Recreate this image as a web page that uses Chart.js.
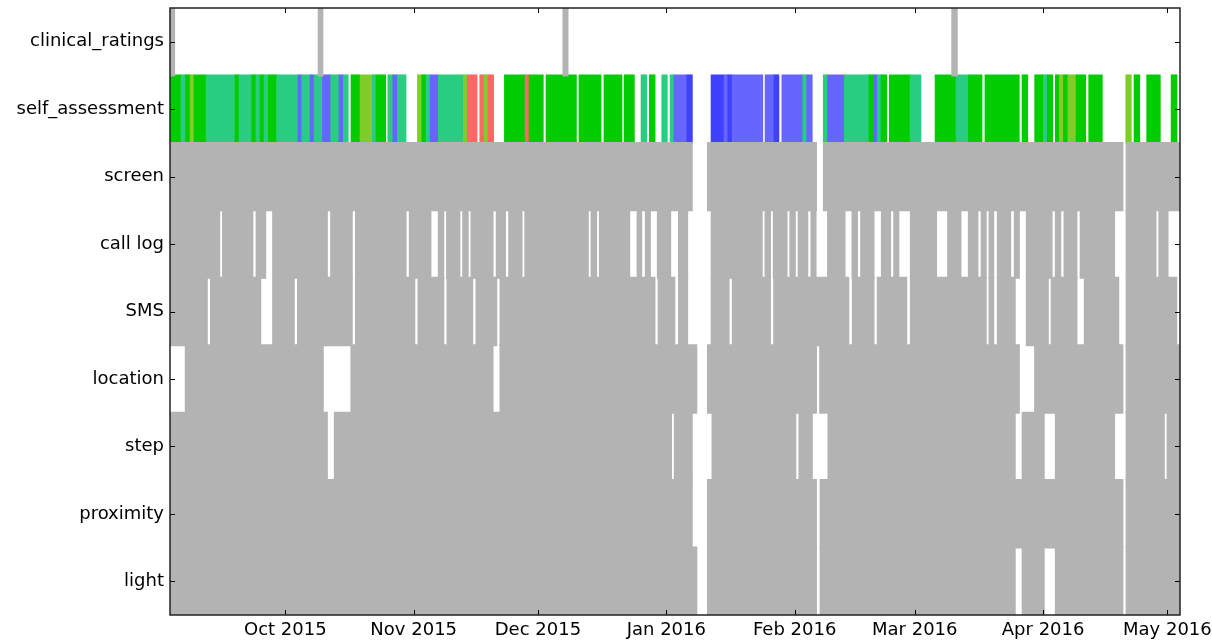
<!DOCTYPE html>
<html lang="en">
<head>
    <meta charset="UTF-8">
    <title>Data availability</title>
    <script src="https://cdn.jsdelivr.net/npm/chart.js"></script>
    <style>
        html, body { margin: 0; padding: 0; background: #fff; }
    </style>
</head>
<body>
    <canvas id="availChart" width="1212" height="640"></canvas>

    <script>
        // x values are days since 1 Sep 2015
        const rowLabels = ['clinical_ratings', 'self_assessment', 'screen', 'call log', 'SMS', 'location', 'step', 'proximity', 'light'];
        const monthTickDays = [30, 61, 91, 122, 153, 182, 213, 243];
        const monthTickLabels = ['Oct 2015', 'Nov 2015', 'Dec 2015', 'Jan 2016', 'Feb 2016', 'Mar 2016', 'Apr 2016', 'May 2016'];
        const dayMin = 2.15, dayMax = 246.05;

        const clinicalDays = [[2.15, 3.3], [37.9, 39.1], [97.0, 98.3], [190.9, 192.3]];

        // [start, end, mood level]
        const selfAssessment = [
            [2.15, 4.8, 0], [4.8, 5.9, -1], [5.9, 7.0, 0], [7.0, 7.95, 1], [7.95, 10.85, 0], [10.85, 17.85, -1],
            [17.85, 18.8, 0], [18.8, 21.9, -1], [21.9, 22.9, 0], [22.9, 23.9, -1], [23.9, 24.85, 0], [24.85, 25.9, -1],
            [25.9, 27.9, 0], [27.9, 33.05, -1], [33.05, 33.95, -2], [33.95, 35.95, -1], [35.95, 36.95, -2],
            [36.95, 38.95, -1], [38.95, 40.95, -2], [40.95, 42.95, -1], [42.95, 44.0, -2], [44.0, 45.2, -1],
            [45.85, 48.05, 0], [48.05, 51.0, 1], [51.0, 51.9, -1], [51.9, 54.25, 0],
            [54.75, 55.95, -1], [55.95, 57.05, -2], [57.05, 59.15, -1],
            [61.9, 62.95, 1], [62.95, 64.0, 0], [64.0, 64.95, -1], [64.95, 66.95, -2], [66.95, 73.0, -1],
            [73.0, 73.95, 1], [73.95, 76.3, 2], [76.95, 78.0, 2], [78.0, 78.95, 1], [78.95, 80.3, 2],
            [82.9, 87.9, 0], [87.9, 88.85, 2], [88.85, 92.3, 0], [92.95, 100.3, 0], [100.9, 106.25, 0],
            [106.95, 111.3, 0], [111.85, 114.3, 0], [115.9, 117.3, -1], [117.9, 119.3, 0], [120.9, 122.25, -1],
            [122.9, 123.85, -1], [123.85, 126.95, -2], [126.95, 128.3, -3],
            [132.8, 135.95, -3], [135.95, 136.85, -2], [136.85, 137.9, -3], [137.9, 145.3, -2],
            [145.85, 148.0, -2], [148.0, 149.2, -3], [149.9, 154.95, -2], [154.95, 155.9, -1], [155.9, 157.25, -2],
            [159.9, 160.9, -1], [160.9, 165.0, -2], [165.0, 170.95, -1], [170.95, 172.0, 0], [172.0, 172.95, -2],
            [172.95, 173.85, -1], [173.85, 175.25, 0], [175.85, 180.85, 0], [180.85, 183.5, -1],
            [186.9, 191.95, 0], [191.95, 194.95, -1], [194.95, 198.25, 0], [198.95, 207.25, 0], [207.9, 209.3, 0],
            [210.95, 213.05, 0], [213.05, 214.0, -1], [214.0, 215.3, 0], [215.95, 216.9, 0], [216.9, 217.9, 1],
            [217.9, 218.95, 0], [218.95, 220.95, 1], [220.95, 223.3, 0], [224.0, 227.3, 0],
            [232.95, 234.3, 1], [234.95, 236.35, 0], [238.0, 241.3, 0], [243.9, 245.35, 0]
        ];
        const levelColors = { '-3': '#4040ff', '-2': '#6666ff', '-1': '#29cc80', '0': '#00cc00', '1': '#80cc29', '2': '#ff6666' };

        const screenDays = [[2.15, 128.3], [131.9, 158.3], [159.9, 232.3], [233.0, 246.05]];
        const callLogDays = [
            [2.15, 14.2], [14.8, 22.2], [22.9, 25.3], [26.9, 40.2], [40.9, 46.2], [46.9, 59.2], [59.9, 65.2],
            [66.9, 68.3], [68.9, 72.2], [72.8, 74.2], [74.8, 80.2], [80.9, 83.2], [83.9, 87.2], [87.8, 103.2],
            [103.8, 105.2], [105.8, 113.2], [114.9, 116.1], [116.9, 118.2], [119.8, 123.1], [124.9, 127.2],
            [132.8, 145.2], [145.8, 147.2], [147.8, 151.2], [151.8, 153.2], [153.8, 156.2], [156.9, 158.2],
            [160.9, 165.2], [166.8, 168.2], [168.9, 172.2], [173.9, 176.2], [176.9, 178.2], [180.9, 187.3],
            [189.9, 193.2], [194.9, 197.3], [198.0, 199.3], [199.9, 201.1], [201.9, 205.2], [206.0, 207.3],
            [208.9, 215.2], [215.9, 217.3], [218.0, 221.2], [221.9, 230.3], [233.0, 240.3], [240.9, 243.2]
        ];
        const smsDays = [
            [2.15, 11.2], [11.9, 24.1], [26.9, 32.2], [32.9, 46.2], [46.9, 61.3], [62.0, 68.3], [69.0, 75.3],
            [76.0, 81.1], [81.8, 119.3], [120.0, 124.1], [124.9, 127.2], [132.8, 137.2], [137.9, 147.2],
            [147.9, 166.1], [166.9, 172.2], [172.9, 180.1], [180.9, 199.3], [199.9, 201.1], [201.9, 206.3],
            [208.9, 214.3], [214.9, 221.2], [222.9, 231.3], [233.0, 245.3]
        ];
        const locationDays = [[5.8, 39.2], [45.8, 80.2], [81.8, 129.4], [131.9, 158.3], [159.0, 207.3], [210.9, 232.3], [233.0, 246.05]];
        const stepDays = [
            [2.15, 40.2], [41.8, 123.3], [123.9, 128.3], [133.0, 153.3], [154.0, 157.3], [161.0, 206.3],
            [207.9, 213.3], [215.9, 230.3], [233.0, 242.3], [242.9, 246.05]
        ];
        const proximityDays = [[2.15, 128.3], [131.9, 158.3], [159.1, 232.3], [233.0, 246.05]];
        const lightDays = [[2.15, 129.4], [131.9, 158.3], [159.1, 206.3], [207.9, 213.3], [215.9, 232.3], [233.0, 246.05]];

        const grayRows = [
            ['clinical_ratings', clinicalDays], ['screen', screenDays], ['call log', callLogDays], ['SMS', smsDays],
            ['location', locationDays], ['step', stepDays], ['proximity', proximityDays], ['light', lightDays]
        ];
        const grayData = [];
        grayRows.forEach(([label, spans]) => {
            spans.forEach(s => grayData.push({ x: [s[0], s[1]], y: label }));
        });

        // ticks pointing inward on all four sides, plus the box
        const frameTicks = {
            id: 'frameTicks',
            afterDraw(chart) {
                const { ctx, chartArea: a, scales: { x, y } } = chart;
                ctx.save();
                ctx.strokeStyle = '#000';
                ctx.lineWidth = 1;
                ctx.beginPath();
                monthTickDays.forEach(d => {
                    const px = Math.round(x.getPixelForValue(d)) + 0.5;
                    ctx.moveTo(px, a.bottom); ctx.lineTo(px, a.bottom - 5);
                    ctx.moveTo(px, a.top); ctx.lineTo(px, a.top + 5);
                });
                rowLabels.forEach((r, i) => {
                    const py = Math.round(y.getPixelForValue(i)) + 0.5;
                    ctx.moveTo(a.left, py); ctx.lineTo(a.left + 5, py);
                    ctx.moveTo(a.right, py); ctx.lineTo(a.right - 5, py);
                });
                ctx.stroke();
                ctx.strokeStyle = '#222';
                ctx.lineWidth = 1.5;
                ctx.strokeRect(a.left, a.top, a.right - a.left, a.bottom - a.top);
                ctx.restore();
            }
        };

        Chart.defaults.font.family = 'DejaVu Sans';
        Chart.defaults.font.size = 18;
        Chart.defaults.color = '#000';

        new Chart(document.getElementById('availChart'), {
            type: 'bar',
            data: {
                labels: rowLabels,
                datasets: [
                    {
                        label: 'available',
                        data: grayData,
                        backgroundColor: '#b3b3b3'
                    },
                    {
                        label: 'self_assessment',
                        data: selfAssessment.map(s => ({ x: [s[0], s[1]], y: 'self_assessment' })),
                        backgroundColor: selfAssessment.map(s => levelColors[String(s[2])])
                    }
                ]
            },
            options: {
                indexAxis: 'y',
                responsive: false,
                animation: false,
                events: [],
                grouped: false,
                barPercentage: 1.02,
                categoryPercentage: 1,
                inflateAmount: 0.33,
                borderWidth: 0,
                layout: { padding: { top: 8, right: 32, left: 0, bottom: 0 } },
                plugins: { legend: { display: false }, tooltip: { enabled: false } },
                scales: {
                    x: {
                        type: 'linear',
                        min: dayMin,
                        max: dayMax,
                        grid: { display: false, drawTicks: false },
                        border: { display: false },
                        afterBuildTicks: scale => { scale.ticks = monthTickDays.map(v => ({ value: v })); },
                        afterFit: scale => {
                            scale.height = 25;
                            scale.paddingLeft = 0;
                            scale.paddingRight = 0;
                        },
                        ticks: {
                            autoSkip: false,
                            maxRotation: 0,
                            padding: 5,
                            callback: (v, i) => monthTickLabels[i]
                        }
                    },
                    y: {
                        type: 'category',
                        grid: { display: false, drawTicks: false },
                        border: { display: false },
                        afterFit: scale => {
                            scale.width = 170;
                            scale.paddingTop = 0;
                            scale.paddingBottom = 0;
                        },
                        ticks: { padding: 6, autoSkip: false }
                    }
                }
            },
            plugins: [frameTicks]
        });
    </script>
</body>
</html>
